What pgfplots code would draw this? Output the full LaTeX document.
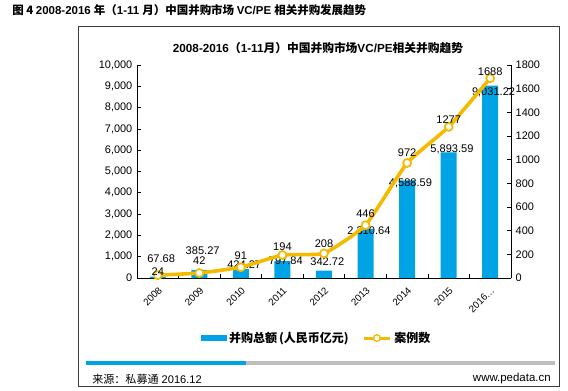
\documentclass[border=0pt]{standalone}
\usepackage{pgfplots}
\pgfplotsset{compat=1.18}
\usepackage{fontspec}
\setmainfont{Liberation Sans}
\newfontfamily\cjk{Noto Sans CJK SC}
\definecolor{barblue}{RGB}{0,164,228}
\definecolor{lineyel}{RGB}{244,186,0}
\definecolor{framegray}{RGB}{60,60,60}
\definecolor{progray}{RGB}{190,190,190}
\begin{document}
\begin{tikzpicture}
\path[use as bounding box] (0pt,0pt) rectangle (426pt,292.5pt);
% frame
\draw[framegray, line width=0.6pt] (58.5pt,3pt) rectangle (419.25pt,273pt);
% titles
\node[anchor=west, inner sep=0pt] at (9pt,285pt) {\fontsize{8.6}{10}\selectfont\bfseries\cjk 图 4 \normalfont\bfseries 2008-2016 \cjk 年（\normalfont\bfseries 1-11 \cjk 月）中国并购市场 \normalfont\bfseries VC/PE \cjk 相关并购发展趋势};
\node[anchor=center, inner sep=0pt] at (238.5pt,256.5pt) {\fontsize{8.8}{10}\selectfont\bfseries 2008-2016\cjk （\normalfont\bfseries 1-11\cjk 月）中国并购市场\normalfont\bfseries VC/PE\cjk 相关并购趋势};
% progress bar
\draw[barblue, line width=2.6pt] (64.5pt,20.25pt) -- (184.5pt,20.25pt);
\draw[progray, line width=2.6pt] (184.5pt,20.25pt) -- (416.25pt,20.25pt);
\node[anchor=west, inner sep=0pt] at (69pt,8.25pt) {\fontsize{8.3}{10}\selectfont\cjk 来源：私募通\normalfont\ 2016.12};
\node[anchor=east, inner sep=0pt] at (413.25pt,8.25pt) {\fontsize{8.6}{10}\selectfont www.pedata.cn};

\pgfplotstableread{
x  y       ly    lab
0  67.68   892   67.68
1  385.27  1268  385.27
2  424.27  610   424.27
3  797.84  798   797.84
4  342.72  751   342.72
5  2310.64 2207  2,310.64
6  4588.59 4460  4,588.59
7  5893.59 6056  5,893.59
8  9031.22 8732  9,031.22
}\bardata
\pgfplotstableread{
x  y     ly
0  24    51
1  42    144
2  91    186
3  194   262
4  208   287
5  446   541
6  972   1056
7  1277  1335
8  1688  1741
}\linedata

\begin{axis}[
  at={(102.75pt,84pt)}, anchor=south west,
  scale only axis, width=280.5pt, height=159.75pt,
  xmin=-0.5, xmax=8.5, ymin=0, ymax=10000,
  axis x line*=bottom, axis y line*=left,
  axis line style={black, line width=0.5pt},
  ytick={0,1000,...,10000},
  scaled y ticks=false,
  yticklabel style={font=\fontsize{8.2}{10}\selectfont, /pgf/number format/1000 sep={,}},
  /pgf/number format/assume math mode=true,
  xtick={0,...,8},
  xticklabels={2008,2009,2010,2011,2012,2013,2014,2015,2016\dots},
  xticklabel style={font=\fontsize{7.3}{8}\selectfont, yshift=-8pt, xshift=2pt, rotate=45, anchor=east, inner sep=0pt},
  minor xtick={-0.5,0.5,...,8.5},
  tick align=inside,
  major tick length=3pt, minor tick length=3pt,
  every major x tick/.append style={draw=none},
  tick style={black, line width=0.5pt},
  clip=false,
]
\addplot[ybar, bar width=12pt, fill=barblue, draw=none, bar shift=0pt] table[x=x,y=y] {\bardata};
\addplot[draw=none, mark=none, nodes near coords, point meta=explicit symbolic,
  nodes near coords style={anchor=center, font=\fontsize{8.3}{10}\selectfont, xshift=2.5pt, inner sep=0pt}]
  table[x=x,y=ly,meta=lab] {\bardata};
\end{axis}

\begin{axis}[
  at={(102.75pt,84pt)}, anchor=south west,
  scale only axis, width=280.5pt, height=159.75pt,
  xmin=-0.5, xmax=8.5, ymin=0, ymax=1800,
  axis x line=none, axis y line*=right,
  axis line style={black, line width=0.5pt},
  ytick={0,200,...,1800},
  yticklabel style={font=\fontsize{8.2}{10}\selectfont, /pgf/number format/1000 sep={}},
  /pgf/number format/assume math mode=true,
  tick align=inside, major tick length=3pt,
  tick style={black, line width=0.5pt},
  clip=false,
  legend columns=2,
  legend style={at={(0.481,-0.282)}, anchor=center, draw=none, fill=none,
    font=\fontsize{9}{10}\selectfont\bfseries\cjk,
    /tikz/every even column/.append style={column sep=8pt}},
]
\addlegendimage{legend image code/.code={\fill[barblue] (0pt,-2pt) rectangle (19pt,2pt);}}
\addlegendentry{并购总额\,(人民币亿元)}
\addplot[lineyel, line width=2.7pt, smooth, tension=0.25, mark=*, mark size=3pt,
  mark options={fill=white, draw=lineyel, line width=1.3pt},
  legend image code/.code={\draw[lineyel, line width=2.3pt] (0pt,0pt) -- (20pt,0pt);
     \draw[lineyel, fill=white, line width=1pt] (10pt,0pt) circle (2.5pt);}]
  table[x=x,y=y] {\linedata};
\addlegendentry{案例数}
\addplot[draw=none, mark=none, nodes near coords, point meta=explicit symbolic,
  nodes near coords style={anchor=center, font=\fontsize{8.3}{10}\selectfont, inner sep=0pt}, forget plot]
  table[x=x,y=ly,meta=y] {\linedata};
\end{axis}
\end{tikzpicture}
\end{document}
